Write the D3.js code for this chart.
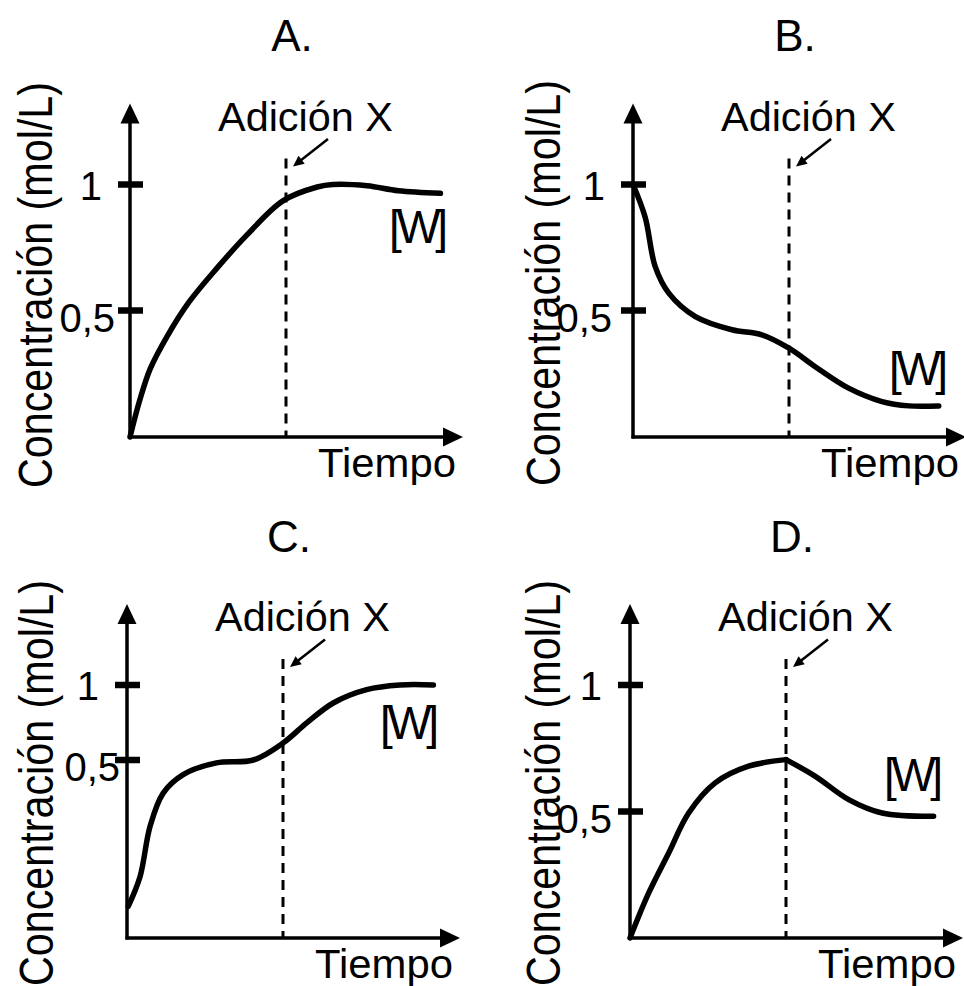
<!DOCTYPE html>
<html><head><meta charset="utf-8">
<script src="https://cdn.jsdelivr.net/npm/d3@7"></script>
<style>
body{margin:0;background:#fff}
svg{display:block;background:#fff}
text{font-family:"Liberation Sans",Arial,Helvetica,sans-serif;fill:#000}
</style>
</head><body>
<svg id="chart" width="964" height="986"></svg>
<script>
// ---------- DATA ----------
const panelTitles = ["A.", "B.", "C.", "D."];
const yTickValues = [0.5, 1];
const yTickLabels = ["0,5", "1"];
const xLabel = "Tiempo";
const yLabel = "Concentración (mol/L)";
const eventLabel = "Adición X";
const seriesLabel = "[W]";
const additionTime = 5;

const timeA = [0, 0.3, 0.65, 1.2, 1.9, 2.8, 3.75, 4.9, 6.0, 6.5, 7.6, 8.6, 9.95];
const concA = [0, 0.14, 0.27, 0.40, 0.535, 0.67, 0.80, 0.935, 0.99, 1.0, 0.995, 0.975, 0.965];

const timeB = [0, 0.39, 0.71, 1.14, 2.0, 3.17, 4.13, 5.0, 5.84, 6.91, 7.98, 8.84, 9.8];
const concB = [1.0, 0.87, 0.675, 0.57, 0.476, 0.424, 0.404, 0.351, 0.278, 0.193, 0.14, 0.123, 0.123];

const timeC = [0.04, 0.42, 0.74, 1.16, 1.8, 2.87, 4.05, 5.0, 5.76, 6.61, 7.68, 8.75, 9.82];
const concC = [0.089, 0.173, 0.314, 0.407, 0.459, 0.492, 0.5, 0.613, 0.747, 0.88, 0.969, 1.0, 1.0];

const timeD = [0, 0.6, 1.24, 1.88, 2.73, 3.8, 5.0, 5.94, 7.01, 8.08, 9.73];
const concD = [0, 0.178, 0.336, 0.494, 0.613, 0.679, 0.705, 0.639, 0.547, 0.494, 0.481];

const series = [
  {t: timeA, c: concA, corner: false},
  {t: timeB, c: concB, corner: false},
  {t: timeC, c: concC, corner: false},
  {t: timeD, c: concD, corner: true}
];

// ---------- LAYOUT (positions / styles only) ----------
const layout = [
  {ax: 130, oy: 437, yr: [437, 310.5, 184.5], lab05dx: -15, wx: 392, wy: 243, ylx: 52,  yly: 285},
  {ax: 633, oy: 437, yr: [437, 310.5, 184.5], lab05dx: -21, wx: 892, wy: 385, ylx: 560, yly: 283},
  {ax: 127, oy: 938, yr: [938, 760, 685],     lab05dx: -7,  wx: 383, wy: 739, ylx: 53,  yly: 783},
  {ax: 630, oy: 938, yr: [938, 811.5, 685],   lab05dx: -18, wx: 887, wy: 791, ylx: 560, yly: 783}
];

const svg = d3.select("#chart");
svg.append("rect").attr("width", 964).attr("height", 986).attr("fill", "#fff");

function tri(g, tip, dir, len, wid) {
  const [dx, dy] = dir;
  const bx = tip[0] - dx * len, by = tip[1] - dy * len;
  const px = -dy * wid / 2, py = dx * wid / 2;
  g.append("path")
    .attr("d", `M${tip[0]},${tip[1]}L${bx + px},${by + py}L${bx - px},${by - py}Z`)
    .attr("fill", "#000");
}

panelTitles.forEach((title, i) => {
  const L = layout[i];
  const s = series[i];
  const g = svg.append("g");
  const x = d3.scaleLinear().domain([0, 10]).range([L.ax, L.ax + 312]);
  const y = d3.scaleLinear().domain([0, 0.5, 1]).range(L.yr);
  const y1 = y(1);
  const xd = x(additionTime);

  // axes
  const topTip = y1 - 81;
  const rightTip = x(10) + 21;
  g.append("line").attr("x1", L.ax).attr("x2", L.ax).attr("y1", L.oy + 1.5).attr("y2", topTip + 16)
    .attr("stroke", "#000").attr("stroke-width", 3.5);
  g.append("line").attr("x1", L.ax - 1.5).attr("x2", rightTip - 16).attr("y1", L.oy).attr("y2", L.oy)
    .attr("stroke", "#000").attr("stroke-width", 3.5);
  tri(g, [L.ax, topTip], [0, -1], 20, 19);
  tri(g, [rightTip, L.oy], [1, 0], 20, 19);

  // ticks
  yTickValues.forEach((v, k) => {
    g.append("line").attr("x1", L.ax - 12).attr("x2", L.ax + 13)
      .attr("y1", y(v)).attr("y2", y(v)).attr("stroke", "#000").attr("stroke-width", 6.5);
    g.append("text").attr("text-anchor", "end")
      .attr("x", v === 1 ? L.ax - 28 : L.ax + L.lab05dx)
      .attr("y", y(v) + (v === 1 ? 15 : 21))
      .attr("font-size", 40).text(yTickLabels[k]);
  });

  // dashed addition line
  g.append("line").attr("x1", xd).attr("x2", xd).attr("y1", y1 - 26).attr("y2", L.oy)
    .attr("stroke", "#000").attr("stroke-width", 3).attr("stroke-dasharray", "10,7");

  // curve
  const pts = s.t.map((t, k) => [t, s.c[k]]);
  const line = d3.line().x(d => x(d[0])).y(d => y(d[1])).curve(d3.curveCatmullRom.alpha(0.5));
  const segs = s.corner
    ? [pts.filter(d => d[0] <= additionTime), pts.filter(d => d[0] >= additionTime)]
    : [pts];
  segs.forEach(seg => {
    g.append("path").attr("d", line(seg))
      .attr("fill", "none").attr("stroke", "#000").attr("stroke-width", 5.5)
      .attr("stroke-linecap", "round").attr("stroke-linejoin", "round");
  });

  // Adición X label and arrow
  g.append("text").attr("x", xd - 68).attr("y", y1 - 54).attr("font-size", 40)
    .attr("textLength", 175).attr("lengthAdjust", "spacingAndGlyphs").text(eventLabel);
  const a0 = [xd + 42, y1 - 45.5], a1 = [xd + 7, y1 - 18];
  const len = Math.hypot(a1[0] - a0[0], a1[1] - a0[1]);
  const dir = [(a1[0] - a0[0]) / len, (a1[1] - a0[1]) / len];
  g.append("line").attr("x1", a0[0]).attr("y1", a0[1])
    .attr("x2", a1[0] - dir[0] * 8).attr("y2", a1[1] - dir[1] * 8)
    .attr("stroke", "#000").attr("stroke-width", 2.5);
  tri(g, a1, dir, 11, 10);

  // title
  g.append("text").attr("x", L.ax + 162).attr("y", L.oy - 386).attr("text-anchor", "middle")
    .attr("font-size", 44).text(title);

  // x label
  g.append("text").attr("x", L.ax + 188).attr("y", L.oy + 40).attr("font-size", 40)
    .attr("textLength", 138).attr("lengthAdjust", "spacingAndGlyphs").text(xLabel);

  // y label
  g.append("text").attr("transform", `translate(${L.ylx},${L.yly}) rotate(-90)`)
    .attr("text-anchor", "middle").attr("font-size", 48)
    .attr("textLength", 406).attr("lengthAdjust", "spacingAndGlyphs").text(yLabel);

  // [W] label
  g.append("text").attr("x", L.wx - 3).attr("y", L.wy)
    .attr("font-size", 46).attr("letter-spacing", -5).text(seriesLabel);
});
</script>
</body></html>
